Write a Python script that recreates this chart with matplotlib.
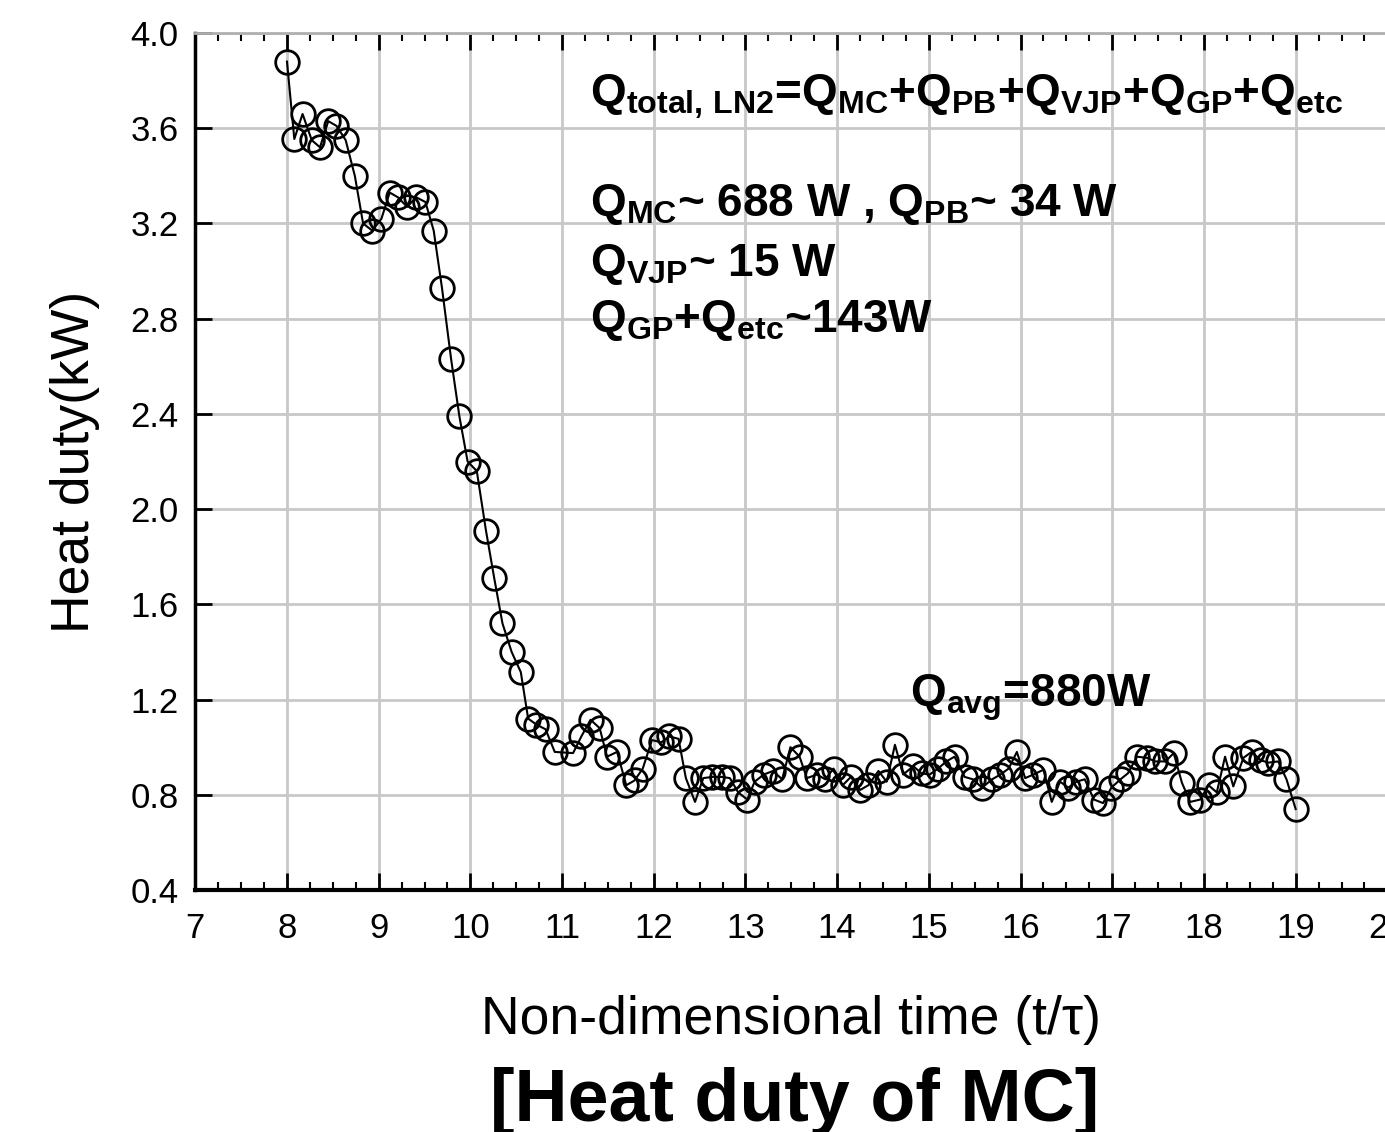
import numpy as np
import matplotlib
matplotlib.use('Agg')
import matplotlib.pyplot as plt
from matplotlib.ticker import MultipleLocator, FormatStrFormatter

plt.rcParams['font.family'] = ['Liberation Sans', 'DejaVu Sans']
plt.rcParams['mathtext.fontset'] = 'custom'
plt.rcParams['mathtext.rm'] = 'Liberation Sans'
plt.rcParams['mathtext.bf'] = 'Liberation Sans:bold'
plt.rcParams['mathtext.it'] = 'Liberation Sans:italic'

# data
time = [8.00, 8.08, 8.17, 8.27, 8.36, 8.45, 8.54, 8.64, 8.74, 8.83,
        8.93, 9.03, 9.12, 9.21, 9.31, 9.41, 9.51, 9.60, 9.69, 9.79,
        9.88, 9.97, 10.07, 10.17, 10.26, 10.35, 10.45, 10.55, 10.63, 10.72,
        10.82, 10.92, 11.12, 11.21, 11.31, 11.41, 11.49, 11.60, 11.70, 11.79,
        11.88, 11.98, 12.08, 12.17, 12.27, 12.35, 12.45, 12.54, 12.64, 12.74,
        12.83, 12.92, 13.02, 13.10, 13.20, 13.30, 13.40, 13.49, 13.59, 13.67,
        13.78, 13.87, 13.96, 14.06, 14.15, 14.25, 14.34, 14.45, 14.54, 14.63,
        14.72, 14.83, 14.92, 15.01, 15.10, 15.19, 15.28, 15.39, 15.48, 15.58,
        15.69, 15.78, 15.87, 15.96, 16.05, 16.14, 16.25, 16.34, 16.43, 16.52,
        16.61, 16.70, 16.80, 16.90, 16.99, 17.09, 17.17, 17.27, 17.38, 17.47,
        17.58, 17.67, 17.76, 17.85, 17.96, 18.05, 18.14, 18.23, 18.32, 18.43,
        18.52, 18.62, 18.70, 18.81, 18.90, 19.00]
heat_duty = [3.88, 3.555, 3.66, 3.55, 3.52, 3.63, 3.61, 3.55, 3.40, 3.20,
             3.17, 3.22, 3.33, 3.31, 3.27, 3.31, 3.29, 3.17, 2.93, 2.63,
             2.39, 2.20, 2.16, 1.91, 1.71, 1.52, 1.40, 1.315, 1.12, 1.095,
             1.075, 0.98, 0.975, 1.045, 1.115, 1.08, 0.96, 0.98, 0.84, 0.86,
             0.91, 1.03, 1.02, 1.045, 1.035, 0.87, 0.77, 0.87, 0.875, 0.875,
             0.87, 0.81, 0.78, 0.855, 0.885, 0.90, 0.865, 1.00, 0.96, 0.87,
             0.885, 0.865, 0.91, 0.84, 0.875, 0.82, 0.84, 0.90, 0.855, 1.01,
             0.885, 0.92, 0.89, 0.885, 0.91, 0.94, 0.96, 0.875, 0.865, 0.83,
             0.865, 0.885, 0.91, 0.98, 0.87, 0.885, 0.905, 0.77, 0.855, 0.83,
             0.855, 0.865, 0.78, 0.765, 0.83, 0.865, 0.89, 0.96, 0.955, 0.94,
             0.94, 0.975, 0.85, 0.77, 0.78, 0.84, 0.81, 0.96, 0.835, 0.955,
             0.98, 0.945, 0.935, 0.94, 0.865, 0.74]

fig = plt.figure(figsize=(13.85, 11.32), dpi=100)
ax = fig.add_axes([0.141, 0.2138, 0.8607, 0.757])

ax.plot(time, heat_duty, color='black', lw=1.5, marker='o', ms=17,
        mfc='none', mec='black', mew=2, zorder=3)

ax.set_xlim(7, 20)
ax.set_ylim(0.4, 4.0)
ax.xaxis.set_major_locator(MultipleLocator(1))
ax.xaxis.set_minor_locator(MultipleLocator(0.25))
ax.yaxis.set_major_locator(MultipleLocator(0.4))
ax.yaxis.set_major_formatter(FormatStrFormatter('%.1f'))

ax.grid(True, which='major', color='#c8c8c8', lw=2)
ax.set_axisbelow(True)

ax.tick_params(axis='both', which='major', direction='in', length=12, width=2,
               labelsize=25, color='black')
ax.tick_params(axis='x', which='major', pad=16, top=True)
ax.tick_params(axis='y', which='major', pad=12, right=False)
ax.tick_params(axis='x', which='minor', direction='in', length=6, width=1.5,
               top=True, bottom=True)

ax.spines['left'].set_linewidth(2.5)
ax.spines['bottom'].set_linewidth(3)
ax.spines['top'].set_color('#b0b0b0')
ax.spines['top'].set_linewidth(2)
ax.spines['right'].set_visible(False)

ax.set_xlabel('Non-dimensional time (t/\u03c4)', fontsize=38.5, labelpad=36)
ax.set_ylabel('Heat duty(kW)', fontsize=38.5, labelpad=22)

fs = 33
ax.text(11.30, 3.69, r'$\mathbf{Q_{total,\,LN2}}$=$\mathbf{Q_{MC}}$+$\mathbf{Q_{PB}}$'
        r'+$\mathbf{Q_{VJP}}$+$\mathbf{Q_{GP}}$+$\mathbf{Q_{etc}}$',
        fontsize=fs, fontweight='bold', va='baseline', ha='left')
ax.text(11.30, 3.23, r'$\mathbf{Q_{MC}}$~ 688 W , $\mathbf{Q_{PB}}$~ 34 W',
        fontsize=fs, fontweight='bold', va='baseline', ha='left')
ax.text(11.30, 2.98, r'$\mathbf{Q_{VJP}}$~ 15 W',
        fontsize=fs, fontweight='bold', va='baseline', ha='left')
ax.text(11.30, 2.744, r'$\mathbf{Q_{GP}}$+$\mathbf{Q_{etc}}$~143W',
        fontsize=fs, fontweight='bold', va='baseline', ha='left')
ax.text(14.79, 1.17, r'$\mathbf{Q_{avg}}$=880W',
        fontsize=fs, fontweight='bold', va='baseline', ha='left')

fig.text(0.574, 0.0097, '[Heat duty of MC]', fontsize=53, fontweight='bold',
         ha='center', va='baseline')

fig.savefig('out.png', dpi=100)
